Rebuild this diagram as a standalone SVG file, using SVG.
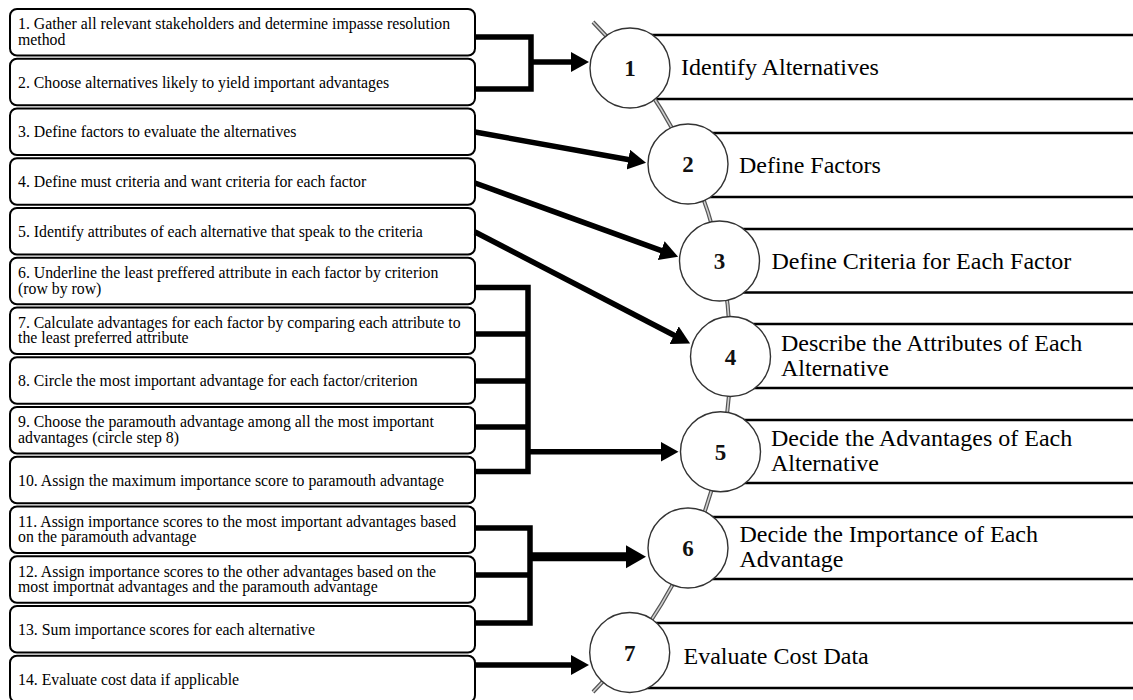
<svg xmlns="http://www.w3.org/2000/svg" xmlns:xlink="http://www.w3.org/1999/xlink" width="1133" height="700" viewBox="0 0 1133 700">
<style>
.box{fill:#fff;stroke:#000;stroke-width:2}
.t{font-family:"Liberation Serif","Times New Roman",serif;font-size:15.8px;fill:#000}
.lab{fill:#fff;stroke:#000;stroke-width:2.5}
.lt{font-family:"Liberation Serif","Times New Roman",serif;font-size:24px;fill:#000}
.circ{fill:#fff;stroke:#333;stroke-width:1.4}
.num{font-family:"Liberation Serif","Times New Roman",serif;font-size:23px;font-weight:bold;fill:#111;text-anchor:middle}
.con{fill:none;stroke:#000;stroke-width:5.5;stroke-linejoin:miter}
.arcO{fill:none;stroke:#555;stroke-width:4}
.arcI{fill:none;stroke:#d0d0d0;stroke-width:1.6}
</style>
<defs>
<marker id="ah" markerUnits="userSpaceOnUse" markerWidth="20" markerHeight="22" refX="1" refY="10" orient="auto" viewBox="0 0 20 22">
<path d="M0,0 L18,10 L0,20 z" fill="#000"/>
</marker>
<marker id="ahL" markerUnits="userSpaceOnUse" markerWidth="22" markerHeight="25" refX="1" refY="11.5" orient="auto" viewBox="0 0 22 25">
<path d="M0,0 L20,11.5 L0,23 z" fill="#000"/>
</marker>
<path id="arcPath" d="M593,22 A477,477 0 0 1 593,692"/>
</defs>
<rect width="1133" height="700" fill="#fff"/>

<g id="steps">
<g id="step1"><rect class="box" x="10" y="9" width="465" height="46.5" rx="7"/><text class="t" x="18" y="29.25">1. Gather all relevant stakeholders and determine impasse resolution</text><text class="t" x="18" y="44.75">method</text></g>
<g id="step2"><rect class="box" x="10" y="58.75" width="465" height="46.5" rx="7"/><text class="t" x="18" y="87.5">2. Choose alternatives likely to yield important advantages</text></g>
<g id="step3"><rect class="box" x="10" y="108.5" width="465" height="46.5" rx="7"/><text class="t" x="18" y="137.25">3. Define factors to evaluate the alternatives</text></g>
<g id="step4"><rect class="box" x="10" y="158.25" width="465" height="46.5" rx="7"/><text class="t" x="18" y="187">4. Define must criteria and want criteria for each factor</text></g>
<g id="step5"><rect class="box" x="10" y="208" width="465" height="46.5" rx="7"/><text class="t" x="18" y="236.75">5. Identify attributes of each alternative that speak to the criteria</text></g>
<g id="step6"><rect class="box" x="10" y="257.75" width="465" height="46.5" rx="7"/><text class="t" x="18" y="278">6. Underline the least preffered attribute in each factor by criterion</text><text class="t" x="18" y="293.5">(row by row)</text></g>
<g id="step7"><rect class="box" x="10" y="307.5" width="465" height="46.5" rx="7"/><text class="t" x="18" y="327.75">7. Calculate advantages for each factor by comparing each attribute to</text><text class="t" x="18" y="343.25">the least preferred attribute</text></g>
<g id="step8"><rect class="box" x="10" y="357.25" width="465" height="46.5" rx="7"/><text class="t" x="18" y="386">8. Circle the most important advantage for each factor/criterion</text></g>
<g id="step9"><rect class="box" x="10" y="407" width="465" height="46.5" rx="7"/><text class="t" x="18" y="427.25">9. Choose the paramouth advantage among all the most important</text><text class="t" x="18" y="442.75">advantages (circle step 8)</text></g>
<g id="step10"><rect class="box" x="10" y="456.75" width="465" height="46.5" rx="7"/><text class="t" x="18" y="485.5">10. Assign the maximum importance score to paramouth advantage</text></g>
<g id="step11"><rect class="box" x="10" y="506.5" width="465" height="46.5" rx="7"/><text class="t" x="18" y="526.75">11. Assign importance scores to the most important advantages based</text><text class="t" x="18" y="542.25">on the paramouth advantage</text></g>
<g id="step12"><rect class="box" x="10" y="556.25" width="465" height="46.5" rx="7"/><text class="t" x="18" y="576.5">12. Assign importance scores to the other advantages based on the</text><text class="t" x="18" y="592">most importnat advantages and the paramouth advantage</text></g>
<g id="step13"><rect class="box" x="10" y="606" width="465" height="46.5" rx="7"/><text class="t" x="18" y="634.75">13. Sum importance scores for each alternative</text></g>
<g id="step14"><rect class="box" x="10" y="655.75" width="465" height="46.5" rx="7"/><text class="t" x="18" y="684.5">14. Evaluate cost data if applicable</text></g>
</g>

<g id="labels">
<rect class="lab" x="630" y="35" width="520" height="64"/>
<rect class="lab" x="688" y="133" width="460" height="64"/>
<rect class="lab" x="719.5" y="229" width="430" height="63.5"/>
<rect class="lab" x="730.5" y="324" width="420" height="64"/>
<rect class="lab" x="720.5" y="420" width="430" height="63"/>
<rect class="lab" x="688" y="517" width="460" height="62"/>
<rect class="lab" x="630" y="623" width="520" height="65"/>
</g>

<g id="spine">
<use xlink:href="#arcPath" class="arcO"/>
<use xlink:href="#arcPath" class="arcI"/>
</g>

<g id="phase1"><circle class="circ" cx="630" cy="68" r="40"/><text class="num" x="630" y="76">1</text><text class="lt" x="681" y="75">Identify Alternatives</text></g>
<g id="phase2"><circle class="circ" cx="688" cy="164" r="40"/><text class="num" x="688" y="172">2</text><text class="lt" x="739" y="172.5">Define Factors</text></g>
<g id="phase3"><circle class="circ" cx="719.5" cy="261" r="40"/><text class="num" x="719.5" y="269">3</text><text class="lt" x="771.5" y="268.5">Define Criteria for Each Factor</text></g>
<g id="phase4"><circle class="circ" cx="730.5" cy="356.5" r="40"/><text class="num" x="730.5" y="364.5">4</text><text class="lt" x="781" y="350.5">Describe the Attributes of Each</text><text class="lt" x="781" y="375.5">Alternative</text></g>
<g id="phase5"><circle class="circ" cx="720.5" cy="451.7" r="40"/><text class="num" x="720.5" y="459.7">5</text><text class="lt" x="771" y="445.5">Decide the Advantages of Each</text><text class="lt" x="771" y="471">Alternative</text></g>
<g id="phase6"><circle class="circ" cx="688" cy="548" r="40"/><text class="num" x="688" y="556">6</text><text class="lt" x="739.5" y="541.5">Decide the Importance of Each</text><text class="lt" x="739.5" y="566.5">Advantage</text></g>
<g id="phase7"><circle class="circ" cx="629.7" cy="652.5" r="40"/><text class="num" x="629.7" y="660.5">7</text><text class="lt" x="683.5" y="663.5">Evaluate Cost Data</text></g>

<g id="connectors">
<path class="con" d="M475,37 H531 V89 H475"/>
<line class="con" x1="531" y1="62" x2="572" y2="62" marker-end="url(#ah)"/>
<line class="con" x1="475" y1="132" x2="629.3" y2="159.8" marker-end="url(#ah)"/>
<line class="con" x1="475" y1="183" x2="662.1" y2="250.9" marker-end="url(#ah)"/>
<line class="con" x1="475" y1="232" x2="675" y2="335.7" marker-end="url(#ah)"/>
<path class="con" d="M475,287.5 H528 V471.5 H475 M475,334 H528 M475,381 H528 M475,427 H528"/>
<line class="con" x1="528" y1="451.7" x2="661.5" y2="451.7" marker-end="url(#ah)"/>
<path class="con" d="M475,528 H530 V623 H475 M475,575 H530"/>
<line class="con" x1="530" y1="556.7" x2="627" y2="556.7" style="stroke-width:9" marker-end="url(#ahL)"/>
<line class="con" x1="475" y1="665" x2="572" y2="665" marker-end="url(#ah)"/>
</g>
</svg>
